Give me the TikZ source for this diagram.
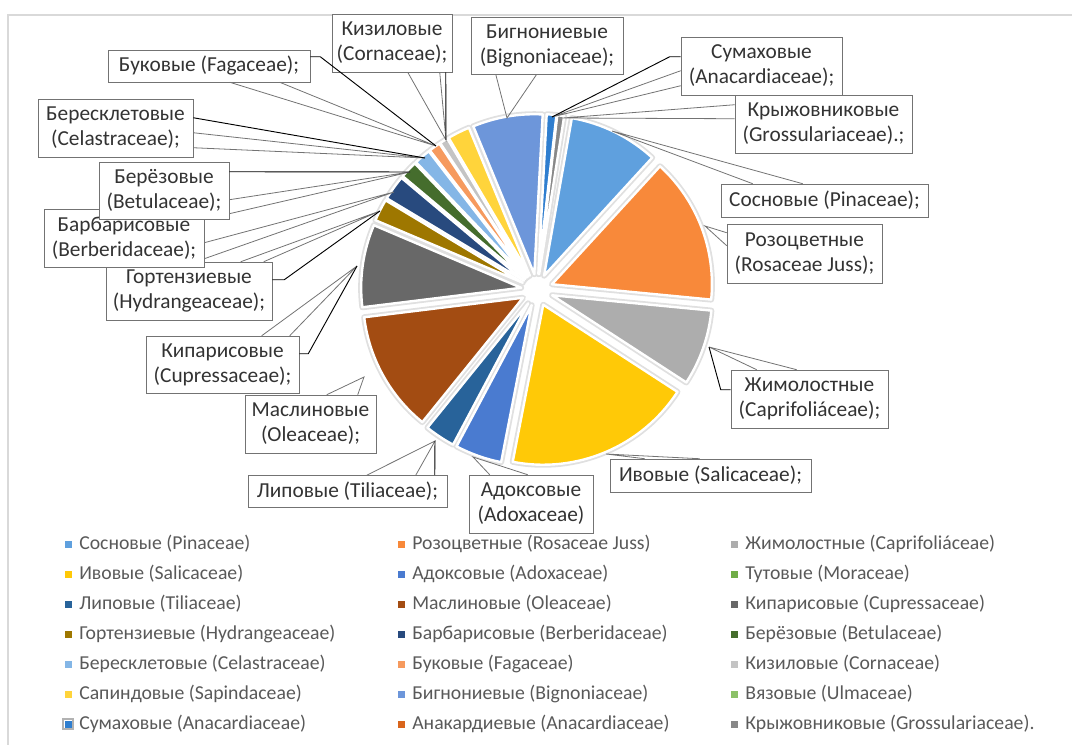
\documentclass[tikz,border=0pt]{standalone}
\usepackage{fontspec}
\setmainfont{Carlito}
\usepackage{tikz}
\usetikzlibrary{calc}
\definecolor{pinc}{HTML}{5FA0DE}
\definecolor{rozc}{HTML}{F8893A}
\definecolor{zhimc}{HTML}{ADADAD}
\definecolor{ivc}{HTML}{FFC907}
\definecolor{adoxc}{HTML}{4A7BD0}
\definecolor{tutc}{HTML}{70AD47}
\definecolor{lipc}{HTML}{28639A}
\definecolor{maslc}{HTML}{A34C12}
\definecolor{kipc}{HTML}{686868}
\definecolor{gortc}{HTML}{9E7700}
\definecolor{barbc}{HTML}{284A7E}
\definecolor{berc}{HTML}{456D2D}
\definecolor{berec}{HTML}{84B6E6}
\definecolor{bukc}{HTML}{F69A5E}
\definecolor{kizc}{HTML}{C4C4C4}
\definecolor{sapc}{HTML}{FFD43B}
\definecolor{bignc}{HTML}{6D96DA}
\definecolor{vyazc}{HTML}{8CC168}
\definecolor{sumc}{HTML}{2F7ECF}
\definecolor{anakc}{HTML}{D9651C}
\definecolor{kryzhc}{HTML}{888888}

\begin{document}
\begin{tikzpicture}[x=0.75pt, y=-0.75pt,
  lbl/.style={draw=black!55, fill=white, text=black!80, align=center, inner sep=0pt,
    font=\fontsize{16}{18.75}\selectfont},
  wedge/.style={draw=black!55, line width=0.6pt},
  leader/.style={draw=black, line width=0.7pt},
  slice/.style={draw=white, line width=1.8pt, line join=round},
  halo/.style={draw=black!12, line width=4.5pt, line join=round},
  key/.style={font=\fontsize{14.8}{17}\selectfont, text=black!65, anchor=west, inner sep=0pt}]
  \useasboundingbox (0,0) rectangle (1072,745);
  \draw[black!15, line width=1pt] (8,745) -- (8,15) -- (1072,15);

  % pie, angles clockwise from 12 o'clock
  \begin{scope}[shift={(537,290)}]
    \foreach \a/\b/\col in {10/42.5/pinc, 42.5/95.5/rozc, 95.5/123/zhimc, 123/191/ivc,
        191/208/adoxc, 208/219/lipc, 219/263/maslc, 263/293/kipc, 293/301/gortc,
        301/310/barbc, 310/316.3/berc, 316.3/322.3/berec, 322.3/326.5/bukc,
        326.5/329.5/kizc, 329.5/337.6/sapc, 337.6/363/bignc, 363/366.5/sumc,
        366.5/369/kryzhc}{
      \draw[halo, shift={({(\a+\b)/2-90}:16)}] (0,0) -- ({\a-90}:160)
        arc[start angle=\a-90, end angle=\b-90, radius=160] -- cycle;
    }
    \foreach \a/\b/\col in {10/42.5/pinc, 42.5/95.5/rozc, 95.5/123/zhimc, 123/191/ivc,
        191/208/adoxc, 208/219/lipc, 219/263/maslc, 263/293/kipc, 293/301/gortc,
        301/310/barbc, 310/316.3/berc, 316.3/322.3/berec, 322.3/326.5/bukc,
        326.5/329.5/kizc, 329.5/337.6/sapc, 337.6/363/bignc, 363/366.5/sumc,
        366.5/369/kryzhc}{
      \draw[slice, fill=\col, shift={({(\a+\b)/2-90}:16)}] (0,0) -- ({\a-90}:160)
        arc[start angle=\a-90, end angle=\b-90, radius=160] -- cycle;
    }
  \end{scope}

  % callout tips
  \coordinate (sosn-tip) at (612,131);
  \coordinate (roz-tip) at (705,226);
  \coordinate (zhim-tip) at (709,347);
  \coordinate (iv-tip) at (606,454);
  \coordinate (adox-tip) at (473,457);
  \coordinate (lip-tip) at (435,441);
  \coordinate (masl-tip) at (364,377);
  \coordinate (kip-tip) at (357,266);
  \coordinate (gort-tip) at (380,211);
  \coordinate (barb-tip) at (394,192);
  \coordinate (ber-tip) at (410,172);
  \coordinate (bere-tip) at (425,158);
  \coordinate (buk-tip) at (436,146);
  \coordinate (kiz-tip) at (446,140);
  \coordinate (bign-tip) at (507,118);
  \coordinate (sum-tip) at (552,117);
  \coordinate (kryzh-tip) at (563,118);

  % labels
  \node[lbl, minimum width=155.25pt, minimum height=24.75pt] (sosn) at (824.5,200.5) {Сосновые (Pinaceae);};
  \node[lbl, minimum width=116.25pt, minimum height=44.25pt] (roz) at (804.5,253.5) {Розоцветные\\(Rosaceae Juss);};
  \node[lbl, minimum width=117.75pt, minimum height=43.5pt] (zhim) at (809.5,399) {Жимолостные\\(Caprifoliáceae);};
  \node[lbl, minimum width=150.75pt, minimum height=24.75pt] (iv) at (710.5,475.5) {Ивовые (Salicaceae);};
  \node[lbl, minimum width=93pt, minimum height=43.5pt] (adox) at (531,504) {Адоксовые\\(Adoxaceae)};
  \node[lbl, minimum width=149.25pt, minimum height=24pt] (lip) at (347.5,491.5) {Липовые (Tiliaceae);};
  \node[lbl, minimum width=98.25pt, minimum height=43.5pt] (masl) at (310.5,424) {Маслиновые\\(Oleaceae);};
  \node[lbl, minimum width=114.75pt, minimum height=42.75pt] (kip) at (222.5,364.5) {Кипарисовые\\(Cupressaceae);};
  \node[lbl, minimum width=124.5pt, minimum height=43.5pt] (gort) at (189,291) {Гортензиевые\\(Hydrangeaceae);};
  \node[lbl, minimum width=120pt, minimum height=43.5pt] (barb) at (124,238) {Барбарисовые\\(Berberidaceae);};
  \node[lbl, minimum width=97.5pt, minimum height=42.75pt] (ber) at (164,190.5) {Берёзовые\\(Betulaceae);};
  \node[lbl, minimum width=116.25pt, minimum height=43.5pt] (bere) at (115.5,128) {Бересклетовые\\(Celastraceae);};
  \node[lbl, minimum width=151.5pt, minimum height=24pt] (buk) at (209,66) {Буковые (Fagaceae);};
  \node[lbl, minimum width=90pt, minimum height=43.5pt] (kiz) at (392,43) {Кизиловые\\(Cornaceae);};
  \node[lbl, minimum width=114pt, minimum height=42.75pt] (bign) at (547,45.5) {Бигнониевые\\(Bignoniaceae);};
  \node[lbl, minimum width=120.75pt, minimum height=43.5pt] (sum) at (761.5,66) {Сумаховые\\(Anacardiaceae);};
  \node[lbl, minimum width=132.75pt, minimum height=43.5pt] (kryzh) at (823.5,124) {Крыжовниковые\\(Grossulariaceae).;};

  % callout wedges
  \draw[wedge] ($(sosn.north west)+(32,0)$) -- (sosn-tip) -- ($(sosn.north west)+(82,0)$);
  \draw[wedge] ($(roz.north west)+(0,9)$) -- (roz-tip) -- ($(roz.north west)+(0,22)$);
  \draw[wedge] ($(zhim.north west)+(26,0)$) -- (zhim-tip) -- ($(zhim.north west)+(66,0)$);
  \draw[wedge] ($(iv.north west)+(35,0)$) -- (iv-tip) -- ($(iv.north west)+(90,0)$);
  \draw[wedge] ($(adox.north west)+(21,0)$) -- (adox-tip) -- ($(adox.north west)+(59,0)$);
  \draw[wedge] ($(lip.north west)+(119,0)$) -- (lip-tip) -- ($(lip.north west)+(168,0)$);
  \draw[wedge] ($(masl.north west)+(82,0)$) -- (masl-tip) -- ($(masl.north west)+(113,0)$);
  \draw[wedge] ($(kip.north west)+(116,0)$) -- (kip-tip) -- ($(kip.north west)+(144,0)$);
  \draw[wedge] ($(gort.north west)+(135,0)$) -- (gort-tip) -- ($(gort.north west)+(158,0)$);
  \draw[wedge] ($(barb.north east)+(0,34)$) -- (barb-tip) -- ($(barb.north east)+(0,50)$);
  \draw[wedge] ($(ber.north east)+(0,38)$) -- (ber-tip) -- ($(ber.north east)+(0,52)$);
  \draw[wedge] ($(bere.north east)+(0,34)$) -- (bere-tip) -- ($(bere.north east)+(0,49)$);
  \draw[wedge] ($(buk.south west)+(122,0)$) -- (buk-tip) -- ($(buk.south west)+(172,0)$);
  \draw[wedge] ($(kiz.south west)+(76,0)$) -- (kiz-tip) -- ($(kiz.south west)+(108,0)$);
  \draw[wedge] ($(bign.south west)+(25,0)$) -- (bign-tip) -- ($(bign.south west)+(66,0)$);
  \draw[wedge] ($(sum.north west)+(0,34)$) -- (sum-tip) -- ($(sum.north west)+(0,49)$);
  \draw[wedge] ($(kryzh.north west)+(0,10)$) -- (kryzh-tip) -- ($(kryzh.north west)+(0,24)$);

  % leader lines
  \draw[leader] ($(zhim.north west)+(0,20)$) -- ++(-10,0) -- (zhim-tip);
  \draw[leader] ($(lip.north west)+(187,0)$) -- (lip-tip);
  \draw[leader] ($(kip.north east)+(0,18)$) -- ++(9,0) -- (kip-tip);
  \draw[leader] ($(gort.north east)+(0,18)$) -- ++(12,0) -- (gort-tip);
  \draw[leader] ($(ber.north east)+(0,10)$) -- (ber-tip);
  \draw[leader] ($(bere.north east)+(0,19)$) -- (bere-tip);
  \draw[leader] ($(buk.north east)+(0,7)$) -- ++(10,0) -- (buk-tip);
  \draw[leader] ($(kiz.south west)+(114,0)$) -- (kiz-tip);
  \draw[leader] ($(sum.north west)+(0,20)$) -- ++(-11,0) -- (sum-tip);

  % legend
  \foreach \col/\txt [count=\i from 0] in {pinc/Сосновые (Pinaceae), rozc/Розоцветные (Rosaceae Juss),
      zhimc/Жимолостные (Caprifoliáceae), ivc/Ивовые (Salicaceae), adoxc/Адоксовые (Adoxaceae),
      tutc/Тутовые (Moraceae), lipc/Липовые (Tiliaceae), maslc/Маслиновые (Oleaceae),
      kipc/Кипарисовые (Cupressaceae), gortc/Гортензиевые (Hydrangeaceae),
      barbc/Барбарисовые (Berberidaceae), berc/Берёзовые (Betulaceae),
      berec/Бересклетовые (Celastraceae), bukc/Буковые (Fagaceae), kizc/Кизиловые (Cornaceae),
      sapc/Сапиндовые (Sapindaceae), bignc/Бигнониевые (Bignoniaceae), vyazc/Вязовые (Ulmaceae),
      sumc/Сумаховые (Anacardiaceae), anakc/Анакардиевые (Anacardiaceae),
      kryzhc/Крыжовниковые (Grossulariaceae).}{
    \pgfmathtruncatemacro\row{\i/3}
    \pgfmathtruncatemacro\cl{mod(\i,3)}
    \fill[\col] ({64.5+333*\cl}, {540.5+30*\row}) rectangle ++(7,7);
    \node[key] (key\i) at ({79+333*\cl}, {544+30*\row}) {\txt};
  }
  \draw[black!30, line width=1.5pt] (63,719) rectangle ++(10,10);
\end{tikzpicture}
\end{document}
